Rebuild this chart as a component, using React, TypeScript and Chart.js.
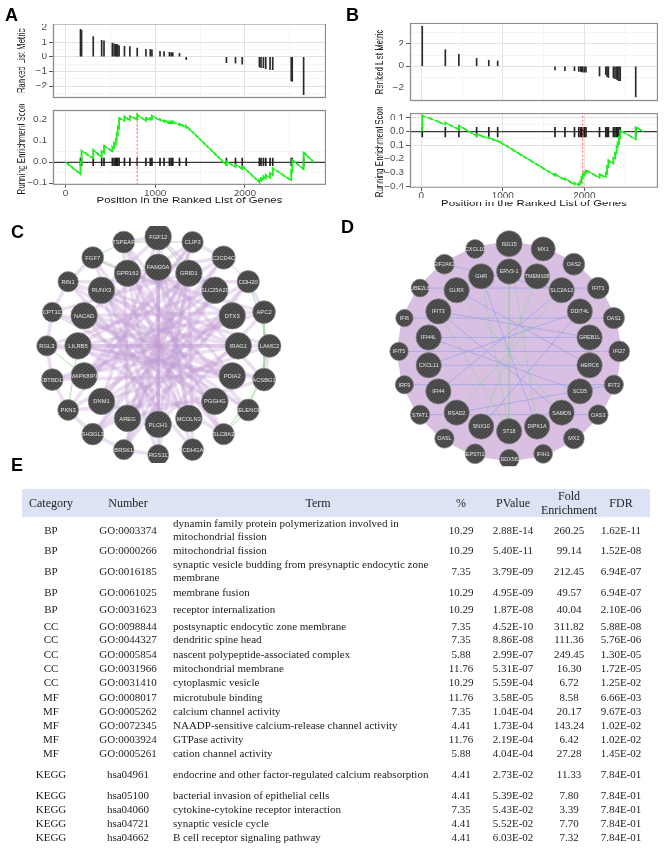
import React, { useEffect, useRef } from "react";
import { Chart, registerables } from "chart.js";

Chart.register(...registerables);

/* ================= GSEA: running enrichment of two gene sets ================= */

const rankedListLength = 2765;
const positionMajorTicks = [0, 1000, 2000];
const positionMinorTicks = [500, 1500, 2500];

// Gene set A: positions of the set members in the ranked list and their ranking metric
const hitPositionsA = [168, 180, 310, 404, 430, 523, 542, 561, 572, 583, 598, 658, 718, 800, 897, 946, 964, 1054, 1099, 1159, 1178, 1196, 1271, 1346, 1794, 1895, 1970, 2161, 2179, 2206, 2232, 2280, 2310, 2516, 2527, 2654];
const rankMetricA = [1.9, 1.85, 1.4, 1.15, 1.12, 0.95, 0.9, 0.88, 0.86, 0.85, 0.8, 0.75, 0.7, 0.62, 0.55, 0.5, 0.48, 0.4, 0.38, 0.35, 0.33, 0.33, 0.27, -0.2, -0.4, -0.45, -0.5, -0.7, -0.75, -0.75, -0.8, -0.85, -0.9, -1.6, -1.7, -2.6];
// running enrichment score (position, score) at each step of the walk
const runningScoreA: [number, number][] = [
  [0, 0], [168, -0.058], [168, 0.0], [180, -0.004], [180, 0.054], [310, 0.017], [310, 0.057],
  [404, 0.024], [404, 0.052], [430, 0.043], [430, 0.078], [523, 0.05], [523, 0.072], [542, 0.066],
  [542, 0.09], [561, 0.083], [561, 0.108], [572, 0.104], [572, 0.135], [583, 0.131], [583, 0.168],
  [598, 0.162], [598, 0.21], [658, 0.196], [658, 0.218], [718, 0.199], [718, 0.22], [800, 0.203],
  [800, 0.226], [897, 0.196], [897, 0.212], [946, 0.2], [946, 0.21], [964, 0.205], [964, 0.222],
  [1054, 0.198], [1054, 0.205], [1099, 0.193], [1099, 0.2], [1159, 0.184], [1159, 0.19], [1178, 0.185],
  [1178, 0.192], [1196, 0.187], [1196, 0.193], [1271, 0.176], [1271, 0.184], [1346, 0.163], [1346, 0.172],
  [1794, -0.014], [1794, 0.003], [1895, -0.025], [1895, -0.013], [1970, -0.033], [1970, -0.02],
  [2161, -0.096], [2161, -0.085], [2179, -0.09], [2179, -0.077], [2206, -0.085], [2206, -0.068],
  [2232, -0.078], [2232, -0.062], [2280, -0.075], [2280, -0.052], [2310, -0.062], [2310, -0.03],
  [2516, -0.088], [2516, -0.04], [2527, -0.044], [2527, 0.01], [2654, -0.035], [2654, 0.045], [2765, 0.0],
];
const peakPositionA = 800;
const metricTicksA = [-2, -1, 0, 1, 2];
const metricMinorA = [-2.5, -1.5, -0.5, 0.5, 1.5];
const scoreTicksA = [-0.1, 0, 0.1, 0.2];
const scoreMinorA = [-0.05, 0.05, 0.15];

// Gene set B
const hitPositionsB = [12, 295, 461, 679, 828, 937, 1640, 1762, 1879, 1931, 1952, 1964, 1980, 2000, 2020, 2186, 2263, 2279, 2295, 2356, 2376, 2396, 2408, 2424, 2440, 2630];
const rankMetricB = [3.6, 1.45, 1.05, 0.7, 0.55, 0.45, -0.4, -0.45, -0.45, -0.5, -0.5, -0.52, -0.55, -0.55, -0.55, -0.9, -0.8, -0.95, -1.0, -1.1, -1.15, -1.2, -1.25, -1.3, -1.35, -2.8];
const runningScoreB: [number, number][] = [
  [12, 0], [12, 0.12], [295, 0.053], [295, 0.067], [461, 0.015], [461, 0.045], [679, -0.03], [679, -0.017],
  [828, -0.05], [828, -0.04], [937, -0.072], [937, -0.065], [1640, -0.318], [1640, -0.308], [1762, -0.352],
  [1762, -0.342], [1879, -0.385], [1879, -0.372], [1931, -0.39], [1931, -0.376], [1952, -0.383], [1952, -0.36],
  [1964, -0.364], [1964, -0.33], [1980, -0.336], [1980, -0.31], [2000, -0.317], [2000, -0.295], [2020, -0.302],
  [2020, -0.28], [2186, -0.335], [2186, -0.31], [2263, -0.33], [2263, -0.3], [2279, -0.306], [2279, -0.25],
  [2295, -0.256], [2295, -0.21], [2356, -0.232], [2356, -0.19], [2376, -0.197], [2376, -0.15], [2396, -0.157],
  [2396, -0.11], [2408, -0.114], [2408, -0.08], [2424, -0.086], [2424, -0.04], [2440, -0.046], [2440, 0.01],
  [2630, -0.055], [2630, 0.035], [2727, 0],
];
const peakPositionB = 1980;
const metricTicksB = [-2, 0, 2];
const metricMinorB = [-3, -1, 1, 3];
const scoreTicksB = [-0.4, -0.3, -0.2, -0.1, 0, 0.1];
const scoreMinorB = [-0.35, -0.25, -0.15, -0.05, 0.05];

/* ================= Gene networks ================= */

const networkCOuter = ["FGF12", "CLIP3", "C2CD4C", "CDH20", "APC2", "LAMC2", "ACSBG1", "SELENON", "SLC8A2", "PCDHGA3", "RGS11", "BRSK1", "SH3GL3", "PKN3", "KBTBD11", "RGL3", "CPT1C", "RIN1", "FGF7", "TSPEAR"];
const networkCOuterScore = [1.0, 0.45, 0.65, 0.55, 0.6, 0.62, 0.6, 0.5, 0.45, 0.5, 0.4, 0.35, 0.5, 0.4, 0.5, 0.35, 0.3, 0.35, 0.5, 0.5];
const networkCInner = ["FAM20A", "GRID1", "SLC25A29", "DTX3", "IRAG1", "PDIA2", "PGGHG", "MCOLN3", "PLCH1", "AREG", "DNM1", "MAPK8IP1", "LILRB5", "NACAD", "RUNX3", "GPR162"];
const networkCInnerScore = [1, 1, 1, 1, 1, 1, 1, 1, 1, 1, 1, 1, 1, 1, 1, 1];
const coexpressionC: [string, string][] = [
  ["FGF12", "PLCH1"], ["FGF12", "DNM1"], ["FGF12", "MCOLN3"], ["FGF12", "RUNX3"], ["FGF12", "SLC25A29"],
  ["CLIP3", "AREG"], ["CLIP3", "MAPK8IP1"], ["CLIP3", "PKN3"], ["CLIP3", "NACAD"],
  ["C2CD4C", "LILRB5"], ["C2CD4C", "DNM1"], ["C2CD4C", "SH3GL3"], ["C2CD4C", "GPR162"],
  ["CDH20", "MAPK8IP1"], ["CDH20", "RIN1"], ["CDH20", "AREG"], ["CDH20", "BRSK1"],
  ["APC2", "NACAD"], ["APC2", "KBTBD11"], ["APC2", "PLCH1"], ["APC2", "GPR162"],
  ["LAMC2", "RGL3"], ["LAMC2", "RUNX3"], ["LAMC2", "DNM1"],
  ["ACSBG1", "CPT1C"], ["ACSBG1", "FAM20A"], ["ACSBG1", "AREG"], ["ACSBG1", "LILRB5"],
  ["SELENON", "RIN1"], ["SELENON", "GPR162"], ["SELENON", "NACAD"],
  ["SLC8A2", "FGF7"], ["SLC8A2", "RUNX3"], ["SLC8A2", "LILRB5"], ["SLC8A2", "TSPEAR"],
  ["PCDHGA3", "TSPEAR"], ["PCDHGA3", "GRID1"], ["PCDHGA3", "NACAD"],
  ["RGS11", "FAM20A"], ["RGS11", "GRID1"], ["RGS11", "RUNX3"],
  ["BRSK1", "GRID1"], ["BRSK1", "SLC25A29"], ["BRSK1", "CLIP3"],
  ["SH3GL3", "SLC25A29"], ["SH3GL3", "DTX3"], ["SH3GL3", "IRAG1"],
  ["PKN3", "DTX3"], ["PKN3", "PGGHG"], ["KBTBD11", "IRAG1"], ["KBTBD11", "PDIA2"],
  ["RGL3", "PDIA2"], ["RGL3", "SLC25A29"], ["CPT1C", "PGGHG"], ["CPT1C", "GRID1"],
  ["RIN1", "MCOLN3"], ["RIN1", "IRAG1"], ["FGF7", "PLCH1"], ["FGF7", "DTX3"],
  ["TSPEAR", "AREG"], ["TSPEAR", "PDIA2"],
  ["FAM20A", "PLCH1"], ["GRID1", "AREG"], ["GRID1", "DNM1"], ["SLC25A29", "MAPK8IP1"], ["DTX3", "LILRB5"],
  ["DTX3", "MAPK8IP1"], ["IRAG1", "NACAD"], ["IRAG1", "LILRB5"], ["PDIA2", "RUNX3"], ["PDIA2", "NACAD"],
  ["PGGHG", "GPR162"], ["PGGHG", "RUNX3"], ["MCOLN3", "FAM20A"], ["MCOLN3", "GPR162"], ["PLCH1", "GRID1"],
  ["AREG", "SLC25A29"], ["DNM1", "DTX3"], ["MAPK8IP1", "GRID1"], ["LILRB5", "PDIA2"], ["NACAD", "PGGHG"],
  ["RUNX3", "MCOLN3"], ["GPR162", "PLCH1"],
  ["FGF7", "RIN1"], ["RIN1", "CPT1C"], ["CPT1C", "RGL3"], ["RGL3", "KBTBD11"], ["KBTBD11", "PKN3"],
  ["PKN3", "SH3GL3"], ["SH3GL3", "BRSK1"], ["BRSK1", "RGS11"], ["LAMC2", "ACSBG1"], ["APC2", "CDH20"],
  ["FGF12", "TSPEAR"], ["CLIP3", "C2CD4C"],
];
const sharedDomainsC: [string, string][] = [
  ["CDH20", "LAMC2"], ["LAMC2", "SELENON"], ["FGF7", "TSPEAR"], ["TSPEAR", "CLIP3"], ["RGL3", "MAPK8IP1"],
  ["SELENON", "SLC8A2"], ["FGF7", "GPR162"], ["C2CD4C", "CDH20"], ["LILRB5", "PKN3"], ["APC2", "ACSBG1"],
  ["ACSBG1", "SLC8A2"], ["FGF12", "GRID1"],
];

const networkDOuter = ["ISG15", "MX1", "OAS2", "IFIT1", "OAS1", "IFI27", "IFIT2", "OAS3", "MX2", "IFIH1", "DDX58", "EPSTI1", "OASL", "STAT1", "IRF9", "IFIT5", "IFI6", "UBE2L6", "EIF2AK2", "CXCL10"];
const networkDOuterScore = [0.95, 0.75, 0.5, 0.5, 0.45, 0.4, 0.25, 0.3, 0.4, 0.2, 0.25, 0.3, 0.25, 0.25, 0.15, 0.15, 0.05, 0.1, 0.3, 0.2];
const networkDInner = ["ERV3-1", "TMEM108", "SLC2A12", "DDIT4L", "GREB1L", "HERC6", "SCD5", "SAMD9", "DIPK1A", "ST18", "SNX10", "RSAD2", "IFI44", "CXCL11", "IFI44L", "IFIT3", "GLRX", "GHR"];
const networkDInnerScore = [0.87, 0.87, 0.87, 0.87, 0.87, 0.87, 0.87, 0.87, 0.87, 0.87, 0.87, 0.87, 0.87, 0.87, 0.87, 0.87, 0.87, 0.87];
const colocalizationD: [string, string][] = [
  ["IFIT3", "SAMD9"], ["GLRX", "HERC6"], ["IFI44L", "GREB1L"], ["CXCL11", "DDIT4L"], ["IFI44", "SLC2A12"],
  ["UBE2L6", "IFIT1"], ["IFI6", "OAS1"], ["IFIT5", "IFI27"], ["IRF9", "IFIT2"], ["STAT1", "OAS3"],
  ["RSAD2", "IFIT2"], ["SNX10", "DDIT4L"], ["IFIT3", "GREB1L"], ["CXCL11", "HERC6"], ["EIF2AK2", "SLC2A12"],
  ["GHR", "DIPK1A"], ["IFI44L", "SCD5"],
];
const sharedDomainsD: [string, string][] = [
  ["ERV3-1", "ST18"], ["TMEM108", "SNX10"], ["GHR", "ST18"], ["SLC2A12", "RSAD2"], ["ISG15", "DIPK1A"],
  ["GLRX", "SAMD9"], ["IFIT3", "ST18"],
];

/* ================= Functional enrichment table ================= */

const termCategories = ["BP", "BP", "BP", "BP", "BP", "CC", "CC", "CC", "CC", "CC", "MF", "MF", "MF", "MF", "MF", "KEGG", "KEGG", "KEGG", "KEGG", "KEGG"];
const termIds = ["GO:0003374", "GO:0000266", "GO:0016185", "GO:0061025", "GO:0031623", "GO:0098844", "GO:0044327", "GO:0005854", "GO:0031966", "GO:0031410", "GO:0008017", "GO:0005262", "GO:0072345", "GO:0003924", "GO:0005261", "hsa04961", "hsa05100", "hsa04060", "hsa04721", "hsa04662"];
const termNames = [
  "dynamin family protein polymerization involved in mitochondrial fission",
  "mitochondrial fission",
  "synaptic vesicle budding from presynaptic endocytic zone membrane",
  "membrane fusion",
  "receptor internalization",
  "postsynaptic endocytic zone membrane",
  "dendritic spine head",
  "nascent polypeptide-associated complex",
  "mitochondrial membrane",
  "cytoplasmic vesicle",
  "microtubule binding",
  "calcium channel activity",
  "NAADP-sensitive calcium-release channel activity",
  "GTPase activity",
  "cation channel activity",
  "endocrine and other factor-regulated calcium reabsorption",
  "bacterial invasion of epithelial cells",
  "cytokine-cytokine receptor interaction",
  "synaptic vesicle cycle",
  "B cell receptor signaling pathway",
];
const genePercent = [10.29, 10.29, 7.35, 10.29, 10.29, 7.35, 7.35, 5.88, 11.76, 10.29, 11.76, 7.35, 4.41, 11.76, 5.88, 4.41, 4.41, 7.35, 4.41, 4.41];
const pValues = [2.88e-14, 5.4e-11, 3.79e-9, 4.95e-9, 1.87e-8, 4.52e-10, 8.86e-8, 2.99e-7, 5.31e-7, 5.59e-4, 3.58e-5, 1.04e-4, 1.73e-4, 2.19e-4, 4.04e-4, 2.73e-2, 5.39e-2, 5.43e-2, 5.52e-2, 6.03e-2];
const foldEnrichment = [260.25, 99.14, 212.45, 49.57, 40.04, 311.82, 111.36, 249.45, 16.3, 6.72, 8.58, 20.17, 143.24, 6.42, 27.28, 11.33, 7.8, 3.39, 7.7, 7.32];
const fdrValues = [1.62e-11, 1.52e-8, 6.94e-7, 6.94e-7, 2.1e-6, 5.88e-8, 5.76e-6, 1.3e-5, 1.72e-5, 1.25e-2, 6.66e-3, 9.67e-3, 1.02e-2, 1.02e-2, 1.45e-2, 7.84e-1, 7.84e-1, 7.84e-1, 7.84e-1, 7.84e-1];

/* ================= drawing helpers ================= */

const SANS = '"Liberation Sans", Arial, Helvetica, sans-serif';
const SERIF = '"Liberation Serif", "Times New Roman", Times, serif';
const MINUS = "\u2212";
const SQUASH = 0.78; // vertical compression of the GSEA panels
const GSEA_TOP = 12; // page y where the GSEA panels begin

const isIn = (list: number[], v: number) => list.some((m) => Math.abs(m - v) < 1e-9);
const signed = (s: string) => s.replace("-", MINUS);

const panelFrame = {
  id: "panelFrame",
  afterDatasetsDraw(chart: any) {
    const { ctx, chartArea: a } = chart;
    ctx.save();
    ctx.strokeStyle = "#8d8d8d";
    ctx.lineWidth = 1.3;
    ctx.strokeRect(a.left + 0.5, a.top + 0.5, a.right - a.left - 1, a.bottom - a.top - 1);
    ctx.restore();
  },
};

function gridOf(major: number[], withTicks: boolean) {
  return {
    offset: false,
    drawTicks: withTicks,
    tickLength: 4,
    color: (c: any) => (isIn(major, c.tick?.value) ? "#e2e2e2" : "#f0f0f0"),
    lineWidth: (c: any) => (isIn(major, c.tick?.value) ? 1 : 0.7),
    tickColor: (c: any) => (isIn(major, c.tick?.value) ? "#555555" : "rgba(0,0,0,0)"),
    tickWidth: 1,
  };
}

// panel geometry in page pixels
type Geo = {
  canvasLeft: number;
  plotLeft: number;
  plotRight: number;
  metricPlot: [number, number];
  scorePlot: [number, number];
  titleY: number;
  bottom: number;
};

type GseaProps = {
  hits: number[];
  metric: number[];
  score: [number, number][];
  peak: number;
  metricRange: [number, number];
  metricMajor: number[];
  metricMinor: number[];
  scoreRange: [number, number];
  scoreMajor: number[];
  scoreMinor: number[];
  hitHalf: number;
  geo: Geo;
};

function layoutOf(g: Geo) {
  const toI = (y: number) => (y - GSEA_TOP) / SQUASH;
  const topH = Math.round(toI((g.metricPlot[1] + g.scorePlot[0]) / 2));
  const full = Math.round(toI(g.bottom));
  return {
    width: g.plotRight - g.canvasLeft,
    yAxisW: g.plotLeft - g.canvasLeft,
    topH,
    botH: full - topH,
    topPad: [toI(g.metricPlot[0]), topH - toI(g.metricPlot[1])] as [number, number],
    botPadTop: toI(g.scorePlot[0]) - topH,
    xAxisH: full - toI(g.scorePlot[1]),
    titlePad: Math.max(0, full - toI(g.titleY) - 6.9),
    full,
  };
}

function GseaPanel(p: GseaProps) {
  const topRef = useRef<HTMLCanvasElement>(null);
  const botRef = useRef<HTMLCanvasElement>(null);
  const L = layoutOf(p.geo);

  useEffect(() => {
    const xMin = -0.05 * rankedListLength;
    const xMax = 1.05 * rankedListLength;
    const allX = [...positionMajorTicks, ...positionMinorTicks].sort((a, b) => a - b);

    const xAxis = (labels: boolean) => ({
      type: "linear",
      min: xMin,
      max: xMax,
      offset: false,
      afterBuildTicks: (s: any) => {
        s.ticks = allX.map((value) => ({ value }));
      },
      afterFit: (s: any) => {
        s.height = labels ? L.xAxisH : 0;
      },
      grid: gridOf(positionMajorTicks, labels),
      border: { display: false },
      ticks: {
        display: labels,
        autoSkip: false,
        maxRotation: 0,
        padding: 1,
        color: "#4d4d4d",
        font: { family: SANS, size: 10 },
        callback: (v: number) => (isIn(positionMajorTicks, v) ? String(v) : ""),
      },
      title: {
        display: labels,
        text: "Position in the Ranked List of Genes",
        color: "#1a1a1a",
        font: { family: SANS, size: 11.5 },
        padding: { top: 0, bottom: L.titlePad },
      },
    });

    const yAxis = (range: [number, number], major: number[], minor: number[], fmt: (v: number) => string, title: string) => ({
      type: "linear",
      position: "left",
      min: range[0],
      max: range[1],
      afterBuildTicks: (s: any) => {
        s.ticks = [...major, ...minor].sort((a, b) => a - b).map((value) => ({ value }));
      },
      afterFit: (s: any) => {
        s.width = L.yAxisW;
      },
      grid: gridOf(major, true),
      border: { display: false },
      ticks: {
        autoSkip: false,
        padding: 2,
        color: "#4d4d4d",
        font: { family: SANS, size: 10 },
        callback: (v: number) => (isIn(major, v) ? fmt(v) : ""),
      },
      title: {
        display: true,
        text: title,
        color: "#1a1a1a",
        font: { family: SANS, size: 10 },
        padding: { top: 0, bottom: 0 },
      },
    });

    const common = {
      responsive: false,
      animation: false as const,
      events: [] as any[],
      plugins: { legend: { display: false }, tooltip: { enabled: false } },
    };

    const top = new Chart(topRef.current as HTMLCanvasElement, {
      type: "bar",
      data: {
        datasets: [
          {
            data: p.hits.map((x, i) => ({ x, y: p.metric[i] })),
            backgroundColor: "#2a2a2a",
            barThickness: 1,
          } as any,
        ],
      },
      options: {
        ...common,
        layout: { padding: { top: L.topPad[0], bottom: L.topPad[1], left: 0, right: 0 } },
        scales: {
          x: xAxis(false) as any,
          y: yAxis(p.metricRange, p.metricMajor, p.metricMinor, (v) => signed(String(v)), "Ranked List Metric") as any,
        },
      },
      plugins: [panelFrame],
    });

    const bottom = new Chart(botRef.current as HTMLCanvasElement, {
      type: "line",
      data: {
        datasets: [
          {
            data: p.score.map(([x, y]) => ({ x, y })),
            borderColor: "#1cf01c",
            borderWidth: 1.9,
            pointRadius: 0,
            order: 0,
          },
          {
            data: [
              { x: p.peak, y: p.scoreRange[0] },
              { x: p.peak, y: p.scoreRange[1] },
            ],
            borderColor: "#ff6060",
            borderWidth: 1,
            borderDash: [3, 2],
            pointRadius: 0,
            order: 1,
          },
          {
            type: "bar",
            data: p.hits.map((x) => ({ x, y: [-p.hitHalf, p.hitHalf] })),
            backgroundColor: "#1e1e1e",
            barThickness: 1,
            order: 2,
          } as any,
          {
            data: [
              { x: xMin, y: 0 },
              { x: xMax, y: 0 },
            ],
            borderColor: "#3a3a3a",
            borderWidth: 1.3,
            pointRadius: 0,
            order: 3,
          },
        ],
      },
      options: {
        ...common,
        layout: { padding: { top: L.botPadTop, bottom: 0, left: 0, right: 0 } },
        scales: {
          x: xAxis(true) as any,
          y: yAxis(p.scoreRange, p.scoreMajor, p.scoreMinor, (v) => signed(v.toFixed(1)), "Running Enrichment Score") as any,
        },
      },
      plugins: [panelFrame],
    });

    return () => {
      top.destroy();
      bottom.destroy();
    };
  }, []);

  return (
    <div
      style={{
        position: "absolute",
        left: 0,
        top: GSEA_TOP,
        width: 666,
        height: L.full,
        transform: `scaleY(${SQUASH})`,
        transformOrigin: "0 0",
      }}
    >
      <canvas ref={topRef} width={L.width} height={L.topH} style={{ position: "absolute", left: p.geo.canvasLeft, top: 0 }} />
      <canvas ref={botRef} width={L.width} height={L.botH} style={{ position: "absolute", left: p.geo.canvasLeft, top: L.topH }} />
    </div>
  );
}

/* ---------- circular gene network ---------- */

type NetProps = {
  outer: string[];
  outerScore: number[];
  inner: string[];
  innerScore: number[];
  innerRadius: number;
  thick: [string, string][] | "all";
  thickColor: string;
  thickWidth: number;
  thin: { pairs: [string, string][]; color: string }[];
  box: { left: number; top: number; width: number; height: number; cx: number; cy: number; unit: number };
  labelSize: number;
};

function GeneNetwork(p: NetProps) {
  const ref = useRef<HTMLCanvasElement>(null);

  useEffect(() => {
    const names = [...p.outer, ...p.inner];
    const scores = [...p.outerScore, ...p.innerScore];
    const pos: Record<string, { x: number; y: number }> = {};
    p.outer.forEach((n, i) => {
      const t = (2 * Math.PI * i) / p.outer.length;
      pos[n] = { x: Math.sin(t), y: Math.cos(t) };
    });
    p.inner.forEach((n, i) => {
      const t = (2 * Math.PI * i) / p.inner.length;
      pos[n] = { x: p.innerRadius * Math.sin(t), y: p.innerRadius * Math.cos(t) };
    });

    const segs = (pairs: [string, string][]) => {
      const out: any[] = [];
      pairs.forEach(([a, b]) => {
        out.push({ ...pos[a] }, { ...pos[b] }, { x: pos[b].x, y: null });
      });
      return out;
    };

    // node texture: dark grey with faint diagonal hatching
    const tile = document.createElement("canvas");
    tile.width = 4;
    tile.height = 4;
    const tc = tile.getContext("2d") as CanvasRenderingContext2D;
    tc.fillStyle = "#474747";
    tc.fillRect(0, 0, 4, 4);
    tc.strokeStyle = "#575757";
    tc.lineWidth = 1;
    tc.beginPath();
    tc.moveTo(0, 4);
    tc.lineTo(4, 0);
    tc.stroke();
    const pattern = (ref.current as HTMLCanvasElement).getContext("2d")!.createPattern(tile, "repeat");

    const datasets: any[] = [
      {
        type: "scatter",
        data: names.map((n) => pos[n]),
        pointRadius: scores.map((s) => 8.5 + 4.8 * s),
        pointBackgroundColor: pattern,
        pointBorderColor: "#8c8c8c",
        pointBorderWidth: 0.7,
        order: 0,
      },
    ];
    p.thin.forEach((t) =>
      datasets.push({
        type: "line",
        showLine: true,
        data: segs(t.pairs),
        borderColor: t.color,
        borderWidth: 0.9,
        pointRadius: 0,
        spanGaps: false,
        order: 1,
      })
    );
    if (p.thick === "all") {
      const pairs: [string, string][] = [];
      for (let i = 0; i < names.length; i++) for (let j = i + 1; j < names.length; j++) pairs.push([names[i], names[j]]);
      datasets.push({
        type: "line",
        showLine: true,
        data: segs(pairs),
        borderColor: p.thickColor,
        borderWidth: p.thickWidth,
        pointRadius: 0,
        spanGaps: false,
        order: 5,
      });
    } else {
      p.thick.forEach(([a, b]) =>
        datasets.push({
          type: "line",
          showLine: true,
          data: [{ ...pos[a] }, { ...pos[b] }],
          borderColor: p.thickColor,
          borderWidth: p.thickWidth,
          borderCapStyle: "round",
          pointRadius: 0,
          order: 5,
        })
      );
    }

    const nodeLabels = {
      id: "nodeLabels",
      afterDatasetsDraw(chart: any) {
        const { ctx } = chart;
        const meta = chart.getDatasetMeta(0);
        ctx.save();
        ctx.font = `${p.labelSize}px ${SANS}`;
        ctx.fillStyle = "#e4e4e4";
        ctx.textAlign = "center";
        ctx.textBaseline = "middle";
        meta.data.forEach((pt: any, i: number) => ctx.fillText(names[i], pt.x, pt.y + 0.5));
        ctx.restore();
      },
    };

    const b = p.box;
    const chart = new Chart(ref.current as HTMLCanvasElement, {
      type: "scatter",
      data: { datasets },
      options: {
        responsive: false,
        animation: false,
        events: [],
        layout: { padding: 0 },
        plugins: { legend: { display: false }, tooltip: { enabled: false } },
        scales: {
          x: { type: "linear", display: false, min: -b.cx / b.unit, max: (b.width - b.cx) / b.unit },
          y: { type: "linear", display: false, min: -(b.height - b.cy) / b.unit, max: b.cy / b.unit },
        },
      },
      plugins: [nodeLabels],
    });
    return () => chart.destroy();
  }, []);

  const b = p.box;
  return <canvas ref={ref} width={b.width} height={b.height} style={{ position: "absolute", left: b.left, top: b.top }} />;
}

/* ---------- enrichment table ---------- */

const sci = (v: number) => {
  const [m, e] = v.toExponential(2).split("e");
  const n = parseInt(e, 10);
  return `${m}E${n < 0 ? "-" : "+"}${String(Math.abs(n)).padStart(2, "0")}`;
};

function EnrichmentTable() {
  const rowCenters = [530, 550, 571, 592, 609, 626, 639, 654, 668, 682, 697, 711, 725, 739, 753, 774, 795, 809, 823, 837];
  const centered = (cx: number, w: number, y: number): React.CSSProperties => ({
    position: "absolute",
    left: cx - w / 2,
    width: w,
    top: y,
    transform: "translateY(-50%)",
    textAlign: "center",
    whiteSpace: "nowrap",
  });
  const cols = { cat: 51, num: 128, termLeft: 173, termW: 268, term: 318, pct: 461, p: 513, fold: 569, fdr: 621 };
  const head: React.CSSProperties = { fontFamily: SERIF, fontSize: 12, color: "#222" };

  return (
    <div style={{ position: "absolute", left: 0, top: 0, width: 666, height: 856, fontFamily: SERIF, fontSize: 11, color: "#1c1c1c", lineHeight: "13px" }}>
      <div style={{ position: "absolute", left: 22, top: 489, width: 628, height: 28, background: "#dce3f4" }} />
      <div style={{ ...centered(cols.cat, 70, 503), ...head }}>Category</div>
      <div style={{ ...centered(cols.num, 70, 503), ...head }}>Number</div>
      <div style={{ ...centered(cols.term, 60, 503), ...head }}>Term</div>
      <div style={{ ...centered(cols.pct, 30, 503), ...head }}>%</div>
      <div style={{ ...centered(cols.p, 60, 503), ...head }}>PValue</div>
      <div style={{ ...centered(cols.fold, 80, 503), ...head, lineHeight: "14px" }}>
        Fold
        <br />
        Enrichment
      </div>
      <div style={{ ...centered(cols.fdr, 50, 503), ...head }}>FDR</div>
      {termNames.map((t, i) => {
        const y = rowCenters[i];
        return (
          <React.Fragment key={termIds[i]}>
            <div style={centered(cols.cat, 60, y)}>{termCategories[i]}</div>
            <div style={centered(cols.num, 80, y)}>{termIds[i]}</div>
            <div style={{ position: "absolute", left: cols.termLeft, width: cols.termW, top: y, transform: "translateY(-50%)" }}>{t}</div>
            <div style={centered(cols.pct, 40, y)}>{genePercent[i].toFixed(2)}</div>
            <div style={centered(cols.p, 60, y)}>{sci(pValues[i])}</div>
            <div style={centered(cols.fold, 50, y)}>{foldEnrichment[i].toFixed(2)}</div>
            <div style={centered(cols.fdr, 60, y)}>{sci(fdrValues[i])}</div>
          </React.Fragment>
        );
      })}
    </div>
  );
}

/* ---------- figure ---------- */

function PanelLetter({ text, x, y }: { text: string; x: number; y: number }) {
  return (
    <div style={{ position: "absolute", left: x, top: y, fontFamily: SANS, fontWeight: 700, fontSize: 18, lineHeight: "18px", color: "#000" }}>
      {text}
    </div>
  );
}

export default function App() {
  return (
    <div style={{ position: "absolute", left: 0, top: 0, width: 666, height: 856, background: "#fff", overflow: "hidden" }}>
      <GseaPanel
        hits={hitPositionsA}
        metric={rankMetricA}
        score={runningScoreA}
        peak={peakPositionA}
        metricRange={[-2.8, 2.27]}
        metricMajor={metricTicksA}
        metricMinor={metricMinorA}
        scoreRange={[-0.11, 0.247]}
        scoreMajor={scoreTicksA}
        scoreMinor={scoreMinorA}
        hitHalf={0.019}
        geo={{ canvasLeft: 16, plotLeft: 53, plotRight: 326, metricPlot: [24, 100], scorePlot: [108, 185], titleY: 200.5, bottom: 210 }}
      />
      <GseaPanel
        hits={hitPositionsB}
        metric={rankMetricB}
        score={runningScoreB}
        peak={peakPositionB}
        metricRange={[-3.16, 3.9]}
        metricMajor={metricTicksB}
        metricMinor={metricMinorB}
        scoreRange={[-0.41, 0.134]}
        scoreMajor={scoreTicksB}
        scoreMinor={scoreMinorB}
        hitHalf={0.036}
        geo={{ canvasLeft: 374, plotLeft: 410, plotRight: 658, metricPlot: [23, 102], scorePlot: [112, 188], titleY: 203.5, bottom: 213 }}
      />
      <GeneNetwork
        outer={networkCOuter}
        outerScore={networkCOuterScore}
        inner={networkCInner}
        innerScore={networkCInnerScore}
        innerRadius={0.72}
        thick={coexpressionC}
        thickColor="rgba(192,154,212,0.32)"
        thickWidth={3.6}
        thin={[{ pairs: sharedDomainsC, color: "rgba(150,214,150,0.85)" }]}
        box={{ left: 0, top: 212, width: 320, height: 265, cx: 158, cy: 134, unit: 122 }}
        labelSize={5.8}
      />
      <GeneNetwork
        outer={networkDOuter}
        outerScore={networkDOuterScore}
        inner={networkDInner}
        innerScore={networkDInnerScore}
        innerRadius={0.742}
        thick="all"
        thickColor="rgb(217,192,226)"
        thickWidth={5}
        thin={[
          { pairs: colocalizationD, color: "rgba(150,162,232,0.8)" },
          { pairs: sharedDomainsD, color: "rgba(160,205,170,0.85)" },
        ]}
        box={{ left: 333, top: 212, width: 333, height: 268, cx: 177, cy: 140, unit: 120 }}
        labelSize={5.4}
      />
      <EnrichmentTable />
      <PanelLetter text="A" x={5} y={6} />
      <PanelLetter text="B" x={346} y={6} />
      <PanelLetter text="C" x={11} y={223} />
      <PanelLetter text="D" x={341} y={218} />
      <PanelLetter text="E" x={11} y={456} />
    </div>
  );
}
